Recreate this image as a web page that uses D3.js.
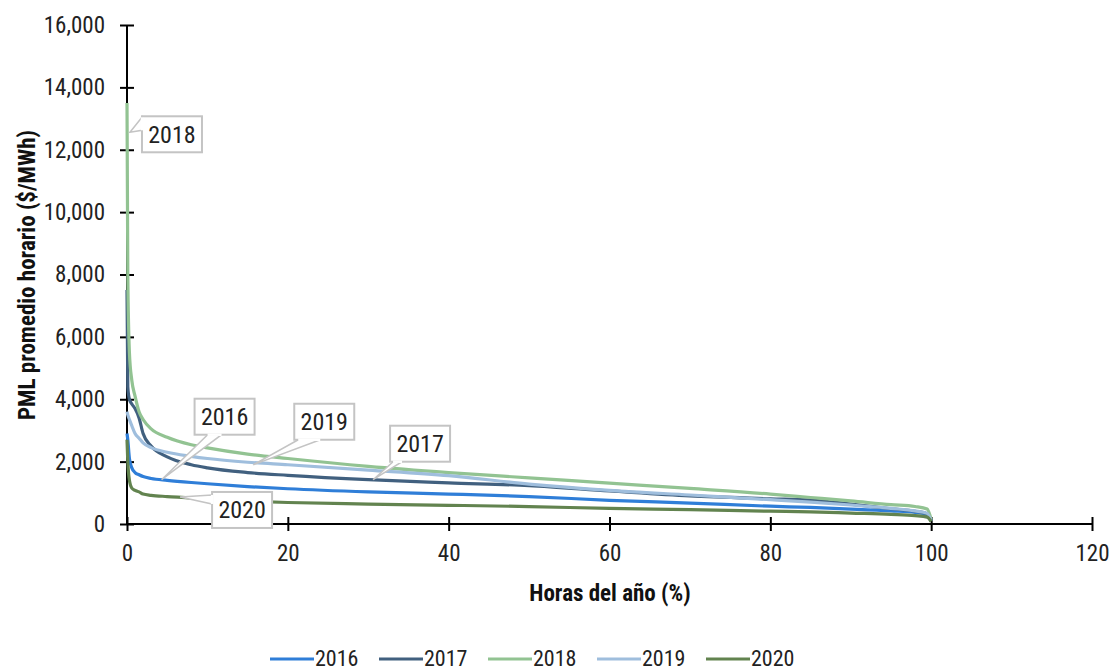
<!DOCTYPE html>
<html>
<head>
<meta charset="utf-8">
<script src="https://cdn.jsdelivr.net/npm/d3@7"></script>
<style>
  html, body { margin: 0; padding: 0; background: #fff; }
  svg text { font-family: "Liberation Sans Narrow", "Arial Narrow", "Roboto Condensed", "Liberation Sans", sans-serif; }
</style>
</head>
<body>
<svg id="chart" width="1112" height="671"></svg>
<script>
// ---- data ----
const years = ["2016", "2017", "2018", "2019", "2020"];
const hourPct = [0, 0.1, 0.3, 0.6, 1, 1.5, 2, 3, 5, 8, 10, 15, 20, 30, 40, 50, 60, 70, 80, 85, 90, 95, 98, 99.5, 100];
const pml2016 = [2900, 2700, 2100, 1800, 1650, 1580, 1520, 1460, 1400, 1330, 1290, 1200, 1130, 1030, 960, 880, 760, 670, 570, 530, 480, 420, 370, 300, 100];
const pml2017 = [7500, 4400, 4000, 3850, 3700, 3400, 2900, 2500, 2150, 1900, 1800, 1650, 1560, 1420, 1320, 1230, 1060, 900, 810, 770, 640, 490, 410, 330, 100];
const pml2018 = [13500, 8000, 5500, 4600, 4100, 3600, 3350, 3050, 2780, 2540, 2440, 2240, 2100, 1850, 1650, 1480, 1310, 1140, 960, 850, 740, 620, 560, 480, 150];
const pml2019 = [3600, 3500, 3350, 3150, 2900, 2750, 2600, 2450, 2300, 2170, 2100, 1980, 1900, 1730, 1550, 1280, 1080, 930, 780, 700, 610, 500, 420, 340, 100];
const pml2020 = [2700, 2000, 1400, 1150, 1080, 1030, 960, 920, 880, 830, 780, 730, 690, 640, 600, 560, 500, 460, 410, 390, 350, 310, 270, 220, 80];
const seriesValues = [pml2016, pml2017, pml2018, pml2019, pml2020];
const colors = ["#2f7ed8", "#41607f", "#92c392", "#9fbedd", "#62834f"];
const xTicks = [0, 20, 40, 60, 80, 100, 120];
const yTicks = [0, 2000, 4000, 6000, 8000, 10000, 12000, 14000, 16000];
// callout labels: year, anchor on curve (pct, value)
const calloutYears = ["2018", "2016", "2019", "2017", "2020"];
const calloutPct = [0.37, 4.3, 15.7, 30.6, 6.6];
const calloutVal = [12560, 1420, 1900, 1420, 867];

// ---- layout ----
const svg = d3.select("#chart");
const x = d3.scaleLinear().domain([0, 120]).range([127, 1092]);
const y = d3.scaleLinear().domain([0, 16000]).range([524, 25]);

// axes
const yAxis = d3.axisLeft(y).tickValues(yTicks).tickFormat(d3.format(",")).tickSize(7).tickPadding(15);
const gy = svg.append("g").attr("transform", `translate(${x(0)},0)`).call(yAxis);
gy.select(".domain").attr("stroke", "#000").attr("stroke-width", 2);
gy.selectAll(".tick line").attr("x1", -7).attr("x2", 7).attr("stroke", "#000").attr("stroke-width", 2);
gy.selectAll(".tick text").attr("font-size", 23).attr("fill", "#222");

const xAxis = d3.axisBottom(x).tickValues(xTicks).tickSize(7).tickPadding(14);
const gx = svg.append("g").attr("transform", `translate(0,${y(0)})`).call(xAxis);
gx.select(".domain").attr("stroke", "#000").attr("stroke-width", 2);
gx.selectAll(".tick line").attr("y1", -7).attr("y2", 7).attr("stroke", "#000").attr("stroke-width", 2);
gx.selectAll(".tick text").attr("font-size", 23).attr("fill", "#222");
gy.selectAll("path.domain").attr("d", `M0,${y(16000)}V${y(0)}`);
gx.selectAll("path.domain").attr("d", `M${x(0)},0H${x(120)}`);

// axis titles
svg.append("text")
  .attr("x", 610).attr("y", 601)
  .attr("text-anchor", "middle")
  .attr("font-size", 23).attr("font-weight", "bold").attr("fill", "#111")
  .text("Horas del año (%)");
svg.append("text")
  .attr("transform", `translate(35,${275}) rotate(-90)`)
  .attr("text-anchor", "middle")
  .attr("font-size", 23).attr("font-weight", "bold").attr("fill", "#111")
  .text("PML promedio horario ($/MWh)");

// lines
const line = d3.line()
  .x((d, i) => x(hourPct[i]))
  .y(d => y(d))
  .curve(d3.curveMonotoneX);
svg.append("g").selectAll("path")
  .data(seriesValues)
  .join("path")
  .attr("d", d => line(d))
  .attr("fill", "none")
  .attr("stroke", (d, i) => colors[i])
  .attr("stroke-width", 3.2)
  .attr("stroke-linejoin", "round");

// callouts
const boxW = 60, boxH = 36;
const calloutLayout = [
  { dx: 12, dy: -16, wedge: (bx, by) => [[bx, by + 1], [bx, by + 14]] },
  { dx: 33, dy: -81, wedge: (bx, by) => [[bx + 13, by + boxH], [bx + 27, by + boxH]] },
  { dx: 41, dy: -61, wedge: (bx, by) => [[bx + 4, by + boxH], [bx + 26, by + boxH]] },
  { dx: 17, dy: -54, wedge: (bx, by) => [[bx + 3, by + boxH], [bx + 12, by + boxH]] },
  { dx: 32, dy: -5, wedge: (bx, by) => [[bx, by + 3], [bx, by + 12]] }
];
const cg = svg.append("g");
calloutYears.forEach((yr, i) => {
  const ax = x(calloutPct[i]), ay = y(calloutVal[i]);
  const L = calloutLayout[i];
  const bx = ax + L.dx, by = ay + L.dy;
  const w = L.wedge(bx, by);
  cg.append("path")
    .attr("d", `M${w[0][0]},${w[0][1]}L${ax},${ay}L${w[1][0]},${w[1][1]}Z`)
    .attr("fill", "#fff").attr("stroke", "#c4c4c4").attr("stroke-width", 1.5);
  cg.append("rect")
    .attr("x", bx).attr("y", by).attr("width", boxW).attr("height", boxH)
    .attr("fill", "#fff").attr("stroke", "#c4c4c4").attr("stroke-width", 2);
  cg.append("path")
    .attr("d", `M${w[0][0]},${w[0][1]}L${w[1][0]},${w[1][1]}`)
    .attr("stroke", "#fff").attr("stroke-width", 2.5);
  cg.append("text")
    .attr("x", bx + boxW / 2).attr("y", by + boxH / 2 + 8.5)
    .attr("text-anchor", "middle")
    .attr("font-size", 24).attr("fill", "#222")
    .text(yr);
});

// legend
const lg = svg.append("g");
years.forEach((yr, i) => {
  const lx = 270 + i * 109;
  lg.append("line")
    .attr("x1", lx).attr("x2", lx + 44)
    .attr("y1", 659).attr("y2", 659)
    .attr("stroke", colors[i]).attr("stroke-width", 3);
  lg.append("text")
    .attr("x", lx + 45).attr("y", 666)
    .attr("font-size", 22).attr("fill", "#222")
    .text(yr);
});
</script>
</body>
</html>
